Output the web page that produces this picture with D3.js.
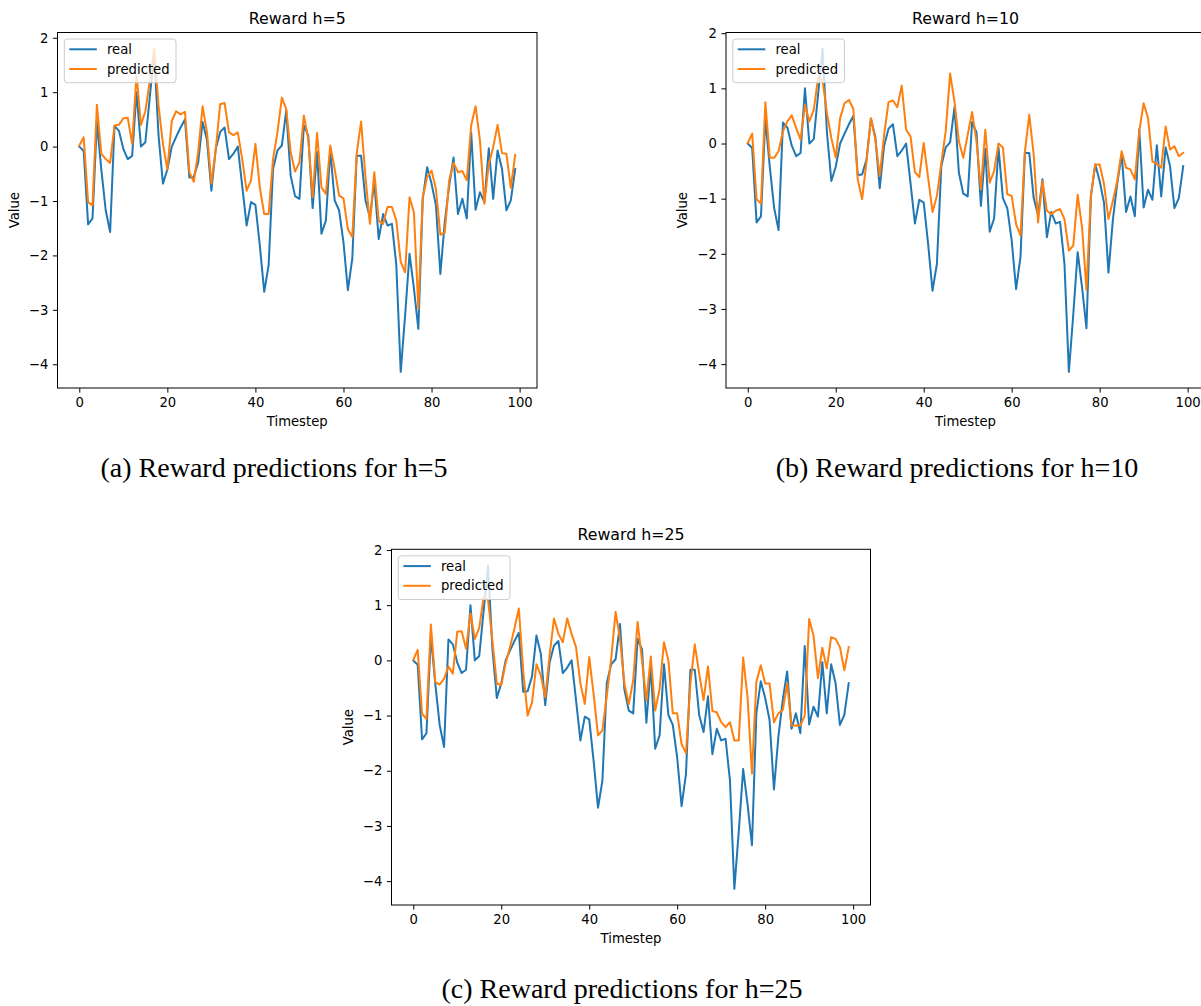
<!DOCTYPE html>
<html>
<head>
<meta charset="utf-8">
<script src="https://d3js.org/d3.v7.min.js"></script>
<style>
    body { margin: 0; background: #fff; }
    .tick text { font-family: "DejaVu Sans", sans-serif; font-size: 13.2px; fill: #000; }
    .tick line { stroke: #000; stroke-width: 1; }
    .axisLabel { font-family: "DejaVu Sans", sans-serif; font-size: 13.2px; fill: #000; }
    .chartTitle { font-family: "DejaVu Sans", sans-serif; font-size: 15.8px; fill: #000; }
    .legendText { font-family: "DejaVu Sans", sans-serif; font-size: 13.2px; fill: #000; }
    .caption { font-family: "Liberation Serif", "Times New Roman", serif; font-size: 28px; fill: #000; }
    .chartFrame { fill: none; stroke: #000; stroke-width: 1; }
    .legendBox { fill: #fff; fill-opacity: 0.8; stroke: #cccccc; stroke-width: 1; }
</style>
</head>
<body>
<script>
// wrap everything in a self-executing anonymous function
(function(){

//timestep index for every series
var timesteps = d3.range(0, 100);

//real reward (same in every panel)
var realValues = [
    0.0, -0.08, -1.43, -1.32, 0.45, -0.42, -1.17, -1.57, 0.38, 0.29,
    -0.04, -0.23, -0.17, 1.0, 0.0, 0.08, 0.9, 1.72, 0.2, -0.68,
    -0.42, 0.0, 0.18, 0.35, 0.5, -0.57, -0.56, -0.29, 0.45, 0.12,
    -0.81, -0.04, 0.27, 0.35, -0.23, -0.13, 0.0, -0.72, -1.45, -1.02,
    -1.07, -1.82, -2.67, -2.18, -0.41, -0.07, 0.02, 0.66, -0.53, -0.91,
    -0.96, 0.39, 0.2, -1.13, -0.1, -1.6, -1.36, -0.07, -0.99, -1.17,
    -1.76, -2.64, -2.06, -0.17, -0.17, -0.99, -1.3, -0.65, -1.7, -1.24,
    -1.45, -1.42, -2.18, -4.14, -3.1, -1.97, -2.61, -3.35, -0.96, -0.38,
    -0.68, -1.08, -2.34, -1.39, -0.72, -0.2, -1.24, -0.96, -1.32, 0.26,
    -1.16, -0.84, -1.02, -0.03, -0.96, -0.07, -0.41, -1.17, -0.99, -0.41
];

//predicted reward, horizon 5
var predictedH5 = [
    0.02, 0.17, -1.02, -1.08, 0.77, -0.13, -0.23, -0.3, 0.39, 0.4,
    0.52, 0.53, 0.05, 1.33, 0.4, 0.65, 1.2, 1.8, 0.75, 0.05,
    -0.42, 0.47, 0.65, 0.59, 0.64, -0.47, -0.65, -0.1, 0.74, 0.26,
    -0.68, -0.04, 0.78, 0.8, 0.26, 0.21, 0.26, -0.23, -0.81, -0.62,
    0.05, -0.75, -1.24, -1.24, -0.23, 0.26, 0.9, 0.69, -0.1, -0.46,
    -0.29, 0.57, 0.14, -0.93, 0.25, -0.75, -0.87, 0.02, -0.41, -0.9,
    -0.95, -1.52, -1.66, -0.13, 0.46, -0.56, -1.42, -0.47, -1.36, -1.42,
    -1.11, -1.11, -1.36, -2.12, -2.31, -0.93, -1.21, -2.98, -0.93, -0.56,
    -0.44, -0.78, -1.62, -1.58, -0.62, -0.3, -0.47, -0.45, -0.62, 0.39,
    0.74, 0.11, -1.05, -0.32, -0.01, 0.4, -0.12, -0.13, -0.76, -0.15
];

//predicted reward, horizon 10
var predictedH10 = [
    0.01, 0.18, -1.01, -1.09, 0.75, -0.26, -0.26, -0.14, 0.22, 0.4,
    0.51, 0.28, 0.07, 0.7, 0.4, 0.61, 1.2, 1.15, 0.55, 0.1,
    -0.26, 0.46, 0.73, 0.79, 0.63, -0.65, -1.01, -0.32, 0.46, 0.07,
    -0.59, 0.16, 0.75, 0.78, 0.66, 1.05, 0.25, 0.13, -0.52, -0.61,
    0.01, -0.62, -1.24, -0.95, -0.35, 0.22, 1.27, 0.76, 0.04, -0.26,
    0.16, 0.57, 0.04, -0.83, 0.25, -0.71, -0.5, 0.0, -0.07, -0.92,
    -0.95, -1.46, -1.67, -0.15, 0.52, -0.2, -1.43, -0.68, -1.22, -1.28,
    -1.22, -1.19, -1.37, -1.94, -1.85, -0.93, -1.52, -2.65, -0.95, -0.38,
    -0.38, -0.74, -1.37, -1.04, -0.68, -0.14, -0.44, -0.47, -0.65, 0.22,
    0.73, 0.46, -0.33, -0.37, -0.44, 0.31, -0.11, -0.05, -0.23, -0.17
];

//predicted reward, horizon 25
var predictedH25 = [
    0.01, 0.19, -0.97, -1.06, 0.65, -0.39, -0.44, -0.33, -0.11, -0.24,
    0.52, 0.53, 0.21, 0.85, 0.39, 0.59, 1.15, 1.1, 0.35, -0.42,
    -0.45, -0.05, 0.24, 0.58, 0.94, -0.2, -1.0, -0.76, -0.07, -0.27,
    -0.67, 0.1, 0.76, 0.48, 0.33, 0.76, 0.48, 0.24, -0.42, -0.79,
    0.06, -0.61, -1.36, -1.27, -0.64, 0.03, 0.88, 0.39, -0.42, -0.79,
    -0.36, 0.7, 0.0, -0.73, 0.07, -0.91, -0.52, 0.33, 0.0, -0.96,
    -0.96, -1.52, -1.68, -0.42, 0.29, -0.24, -0.72, -0.11, -0.92, -0.94,
    -1.12, -1.21, -1.12, -1.45, -1.45, 0.05, -0.67, -2.05, -0.39, -0.09,
    -0.42, -0.42, -1.12, -0.96, -0.9, -0.42, -1.18, -1.18, -1.18, -1.0,
    0.75, 0.45, -0.32, 0.23, -0.15, 0.42, 0.39, 0.24, -0.18, 0.24
];

//tick values and labels
var xTicks = [0, 20, 40, 60, 80, 100];
var yTicks = [-4, -3, -2, -1, 0, 1, 2];
var seriesNames = ["real", "predicted"];
var titles = ["Reward h=5", "Reward h=10", "Reward h=25"];
var captions = ["(a) Reward predictions for h=5", "(b) Reward predictions for h=10", "(c) Reward predictions for h=25"];

//line colours (matplotlib tab10)
var colors = ["#1f77b4", "#ff7f0e"];

//begin script when window loads
window.onload = setFigure();

function setFigure(){
    var svg = d3.select("body")
        .append("svg")
        .attr("width", 1201)
        .attr("height", 1006);

    //panel frames in page pixels
    var panels = [
        {left: 57.5, top: 32.5, width: 479.5, height: 355.5, predicted: predictedH5, capX: 274, capY: 477},
        {left: 726, top: 32.5, width: 479, height: 355.5, predicted: predictedH10, capX: 957, capY: 477},
        {left: 391.5, top: 549.3, width: 479, height: 355.7, predicted: predictedH25, capX: 622, capY: 998}
    ];

    panels.forEach(function(p, i){
        setPanel(svg, p, titles[i]);

        //subfigure caption
        svg.append("text")
            .attr("class", "caption")
            .attr("x", p.capX)
            .attr("y", p.capY)
            .attr("text-anchor", "middle")
            .text(captions[i]);
    });
};

//draw one subplot
function setPanel(svg, p, title){
    var g = svg.append("g")
        .attr("transform", "translate(" + p.left + "," + p.top + ")");

    //matplotlib style 5% margins around the data
    var allValues = realValues.concat(p.predicted);
    var yMin = d3.min(allValues), yMax = d3.max(allValues);
    var yPad = (yMax - yMin) * 0.05;
    var xMin = d3.min(timesteps), xMax = d3.max(timesteps);
    var xPad = (xMax - xMin) * 0.05;

    var xScale = d3.scaleLinear()
        .domain([xMin - xPad, xMax + xPad])
        .range([0, p.width]);

    var yScale = d3.scaleLinear()
        .domain([yMin - yPad, yMax + yPad])
        .range([p.height, 0]);

    //axes
    var xAxis = d3.axisBottom(xScale)
        .tickValues(xTicks)
        .tickSize(4.6)
        .tickPadding(4.6)
        .tickFormat(d3.format("d"));

    var yAxis = d3.axisLeft(yScale)
        .tickValues(yTicks)
        .tickSize(4.6)
        .tickPadding(4.6)
        .tickFormat(d3.format("d"));

    g.append("g")
        .attr("class", "axis")
        .attr("transform", "translate(0," + p.height + ")")
        .call(xAxis)
        .call(function(a){ a.select(".domain").remove(); });

    g.append("g")
        .attr("class", "axis")
        .call(yAxis)
        .call(function(a){ a.select(".domain").remove(); });

    //series lines
    var line = d3.line()
        .x(function(d, i){ return xScale(timesteps[i]); })
        .y(function(d){ return yScale(d); });

    [realValues, p.predicted].forEach(function(values, k){
        g.append("path")
            .datum(values)
            .attr("d", line)
            .attr("fill", "none")
            .attr("stroke", colors[k])
            .attr("stroke-width", 2)
            .attr("stroke-linejoin", "round")
            .attr("stroke-linecap", "square");
    });

    //frame
    g.append("rect")
        .attr("class", "chartFrame")
        .attr("width", p.width)
        .attr("height", p.height);

    //title and axis labels
    g.append("text")
        .attr("class", "chartTitle")
        .attr("x", p.width / 2)
        .attr("y", -9)
        .attr("text-anchor", "middle")
        .text(title);

    g.append("text")
        .attr("class", "axisLabel")
        .attr("x", p.width / 2)
        .attr("y", p.height + 38)
        .attr("text-anchor", "middle")
        .text("Timestep");

    g.append("text")
        .attr("class", "axisLabel")
        .attr("transform", "translate(" + (-39) + "," + (p.height / 2) + ") rotate(-90)")
        .attr("text-anchor", "middle")
        .text("Value");

    //legend in upper left
    var legend = g.append("g")
        .attr("transform", "translate(6.8,6.5)");

    legend.append("rect")
        .attr("class", "legendBox")
        .attr("width", 111.7)
        .attr("height", 43.7)
        .attr("rx", 3);

    seriesNames.forEach(function(name, k){
        var ly = 10.3 + k * 19.7;
        legend.append("line")
            .attr("x1", 5)
            .attr("x2", 32.5)
            .attr("y1", ly)
            .attr("y2", ly)
            .attr("stroke", colors[k])
            .attr("stroke-width", 2);
        legend.append("text")
            .attr("class", "legendText")
            .attr("x", 42.7)
            .attr("y", ly + 4.7)
            .text(name);
    });
};

})();
</script>
</body>
</html>
